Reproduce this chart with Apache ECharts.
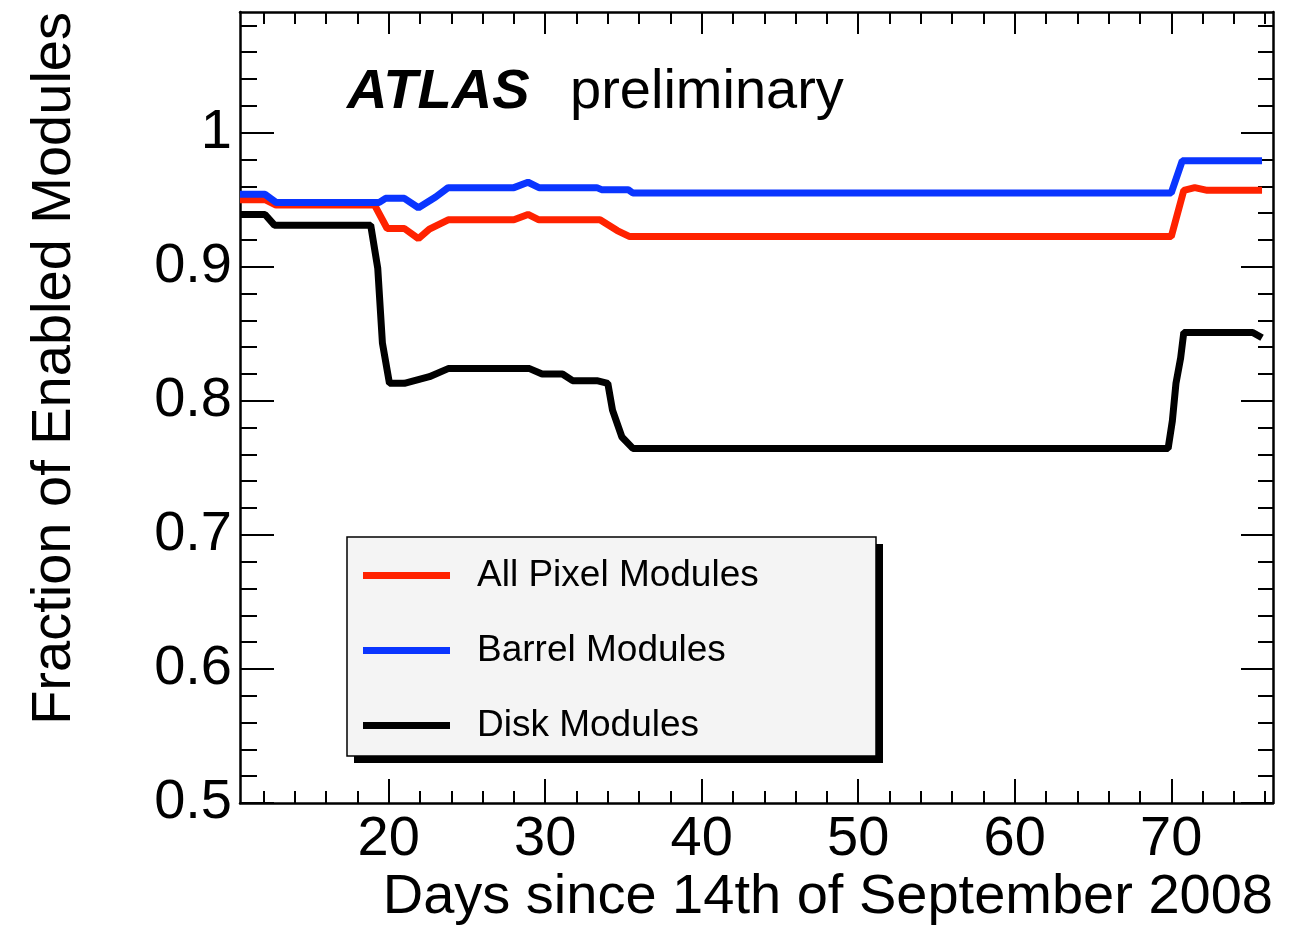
<!DOCTYPE html>
<html><head><meta charset="utf-8">
<script src="https://cdn.jsdelivr.net/npm/echarts@6/dist/echarts.min.js"></script>
<style>html,body{margin:0;padding:0;background:#fff}#c{width:1296px;height:925px}</style>
</head><body><div id="c"></div><script>
const seriesNames = ['All Pixel Modules', 'Barrel Modules', 'Disk Modules'];
const seriesColors = ['#ff2200', '#0a35ff', '#000000'];

const allX = [10.5, 12.1, 12.8, 19.1, 19.9, 21.0, 21.9, 22.6, 23.8, 28.0, 28.9, 29.6, 33.5, 34.6, 35.4, 70.0, 70.8, 71.5, 72.3, 75.8];
const allY = [0.950, 0.950, 0.946, 0.946, 0.9285, 0.9285, 0.921, 0.928, 0.935, 0.935, 0.939, 0.935, 0.935, 0.927, 0.9225, 0.9225, 0.957, 0.959, 0.957, 0.957];

const barrelX = [10.5, 12.1, 12.8, 19.4, 19.8, 21.0, 21.9, 23.0, 23.8, 28.0, 28.9, 29.6, 33.3, 33.6, 35.3, 35.6, 70.0, 70.7, 75.8];
const barrelY = [0.954, 0.954, 0.948, 0.948, 0.951, 0.951, 0.944, 0.952, 0.959, 0.959, 0.963, 0.959, 0.959, 0.9575, 0.9575, 0.955, 0.955, 0.979, 0.979];

const diskX = [10.5, 12.1, 12.7, 18.85, 19.3, 19.6, 20.05, 21.0, 22.6, 23.8, 29.0, 29.8, 31.1, 31.75, 33.3, 34.0, 34.3, 34.9, 35.6, 69.8, 70.07, 70.3, 70.6, 70.8, 75.2, 75.8];
const diskY = [0.939, 0.939, 0.931, 0.931, 0.899, 0.843, 0.813, 0.813, 0.818, 0.824, 0.824, 0.820, 0.820, 0.815, 0.815, 0.813, 0.793, 0.773, 0.7645, 0.7645, 0.785, 0.813, 0.832, 0.851, 0.851, 0.847];

const xMajorTicks = [20, 30, 40, 50, 60, 70];
const xMinorTicks = [12, 14, 16, 18, 22, 24, 26, 28, 32, 34, 36, 38, 42, 44, 46, 48, 52, 54, 56, 58, 62, 64, 66, 68, 72, 74, 76];
const yMajorTicks = [0.5, 0.6, 0.7, 0.8, 0.9, 1];
const yMinorTicks = [0.52, 0.54, 0.56, 0.58, 0.62, 0.64, 0.66, 0.68, 0.72, 0.74, 0.76, 0.78, 0.82, 0.84, 0.86, 0.88, 0.92, 0.94, 0.96, 0.98, 1.02, 1.04, 1.06, 1.08];

const xTitle = 'Days since 14th of September 2008';
const yTitle = 'Fraction of Enabled Modules';

const FONT = '"Liberation Sans", Arial, Helvetica, sans-serif';
const X_MIN = 10.5, X_MAX = 76.5, Y_MIN = 0.5, Y_MAX = 1.09;

function zip(xs, ys) { return xs.map((x, i) => [x, ys[i]]); }

function axis(kind, position, ticks, len, withLine, withLabels) {
  const isX = kind === 'x';
  return {
    type: 'value',
    min: isX ? X_MIN : Y_MIN,
    max: isX ? X_MAX : Y_MAX,
    position: position,
    splitLine: { show: false },
    axisLine: { show: withLine, onZero: false, lineStyle: { color: '#000', width: 2.5 } },
    axisTick: { show: true, inside: true, length: len, customValues: ticks, lineStyle: { color: '#000', width: 2 } },
    axisLabel: withLabels ? {
      show: true, customValues: ticks, margin: isX ? 9 : 8,
      fontSize: 56, color: '#000', fontFamily: FONT
    } : { show: false }
  };
}

const chart = echarts.init(document.getElementById('c'), null, { renderer: 'canvas' });
chart.setOption({
  animation: false,
  backgroundColor: '#ffffff',
  grid: { left: 240, top: 12, right: 23, bottom: 122, containLabel: false, outerBoundsMode: 'none' },
  xAxis: [
    axis('x', 'bottom', xMajorTicks, 24, true, true),
    axis('x', 'bottom', xMinorTicks, 12, false, false),
    axis('x', 'top', xMajorTicks, 22, true, false),
    axis('x', 'top', xMinorTicks, 12, false, false)
  ],
  yAxis: [
    axis('y', 'left', yMajorTicks, 34, true, true),
    axis('y', 'left', yMinorTicks, 17, false, false),
    axis('y', 'right', yMajorTicks, 32, true, false),
    axis('y', 'right', yMinorTicks, 15, false, false)
  ],
  legend: {
    show: true,
    z: 10,
    data: seriesNames,
    orient: 'vertical',
    left: 347, top: 537,
    icon: 'rect',
    itemWidth: 87, itemHeight: 7,
    itemGap: 38,
    padding: [20, 0, 18, 16],
    textStyle: { fontSize: 37, color: '#000', fontFamily: FONT, padding: [0, 0, 0, 22] }
  },
  graphic: [
    { type: 'rect', z: 5, shape: { x: 354, y: 544, width: 529, height: 219 }, style: { fill: '#000' } },
    { type: 'rect', z: 6, shape: { x: 347, y: 537, width: 529, height: 219 }, style: { fill: '#f4f4f4', stroke: '#000', lineWidth: 1.5 } },
    { type: 'text', z: 6, left: 347, top: 65, style: { text: 'ATLAS', font: 'italic bold 56px ' + FONT, fill: '#000' } },
    { type: 'text', z: 6, left: 570, top: 65, style: { text: 'preliminary', font: '56px ' + FONT, fill: '#000' } },
    { type: 'text', z: 6, x: 55, y: 12, rotation: Math.PI / 2, style: { text: yTitle, font: '56px ' + FONT, fill: '#000', align: 'right', verticalAlign: 'middle' } },
    { type: 'text', z: 6, x: 1273, y: 898, style: { text: xTitle, font: '56px ' + FONT, fill: '#000', align: 'right', verticalAlign: 'middle' } }
  ],
  series: [
    { name: seriesNames[0], type: 'line', xAxisIndex: 0, yAxisIndex: 0, data: zip(allX, allY), symbol: 'none', lineStyle: { color: seriesColors[0], width: 7 }, itemStyle: { color: seriesColors[0] } },
    { name: seriesNames[1], type: 'line', xAxisIndex: 0, yAxisIndex: 0, data: zip(barrelX, barrelY), symbol: 'none', lineStyle: { color: seriesColors[1], width: 7 }, itemStyle: { color: seriesColors[1] } },
    { name: seriesNames[2], type: 'line', xAxisIndex: 0, yAxisIndex: 0, data: zip(diskX, diskY), symbol: 'none', lineStyle: { color: seriesColors[2], width: 7 }, itemStyle: { color: seriesColors[2] } }
  ]
});
</script></body></html>
